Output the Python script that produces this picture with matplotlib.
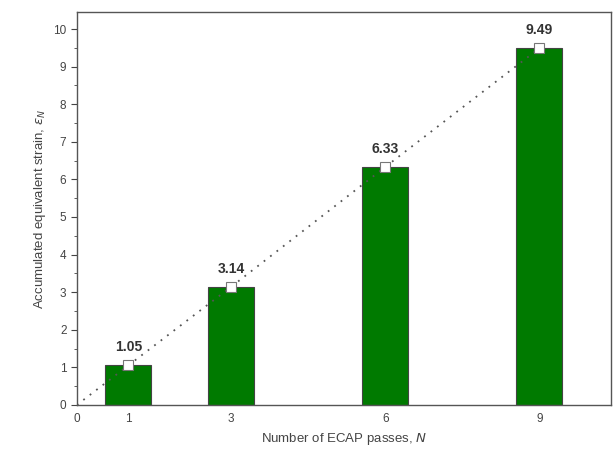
import matplotlib
matplotlib.use('Agg')
import matplotlib.pyplot as plt
from matplotlib.ticker import MultipleLocator

plt.rcParams['font.family'] = ['Liberation Sans', 'DejaVu Sans']

passes = [1, 3, 6, 9]
strain = [1.05, 3.14, 6.33, 9.49]
labels = ['1.05', '3.14', '6.33', '9.49']
line_x = [0, 1, 3, 6, 9]
line_y = [0, 1.05, 3.14, 6.33, 9.49]
xticks = [0, 1, 3, 6, 9]

fig = plt.figure(figsize=(6.15, 4.66), dpi=100)
ax = fig.add_axes([0.125, 0.131, 0.869, 0.843])

ax.bar(passes, strain, width=0.9, color='#007a00', edgecolor='#444444', linewidth=0.8, zorder=2)
ax.plot(line_x, line_y, ls=(0, (1, 3.5)), color='#555555', lw=1.3, zorder=3)
ax.plot(passes, strain, ls='none', marker='s', ms=7, mfc='white', mec='#777777', mew=0.8, zorder=4)

for x, y, t in zip(passes, strain, labels):
    ax.text(x, y + 0.3, t, ha='center', va='bottom', fontsize=10, fontweight='bold', color='#333333')

ax.set_xlim(0, 10.4)
ax.set_ylim(0, 10.45)
ax.set_xticks(xticks)
ax.yaxis.set_major_locator(MultipleLocator(1))
ax.yaxis.set_minor_locator(MultipleLocator(0.5))
ax.tick_params(axis='y', which='major', length=4, direction='out', labelsize=8.5, colors='#444444')
ax.tick_params(axis='y', which='minor', length=2.5, direction='out', colors='#444444')
ax.tick_params(axis='x', length=0, labelsize=8.5, colors='#444444', pad=6)

for s in ax.spines.values():
    s.set_color('#555555')
    s.set_linewidth(1.0)

ax.set_xlabel('Number of ECAP passes, $N$', fontsize=9.5, color='#444444')
ax.set_ylabel(r'Accumulated equivalent strain, $\varepsilon_N$', fontsize=9.5, color='#444444')

fig.savefig('out.png', dpi=100)
